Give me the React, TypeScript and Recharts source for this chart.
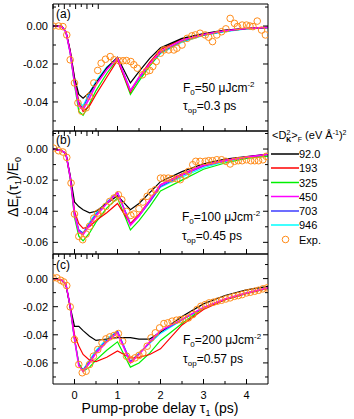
import React from "react";
import { ComposedChart, Line, Scatter, XAxis, YAxis } from "recharts";

// model delay grid (ps)
const delay = [-0.5, -0.3, -0.2, -0.1, 0, 0.1, 0.2, 0.35, 0.5, 0.75, 1.0, 1.3, 1.5, 1.75, 2.0, 2.5, 3.0, 3.5, 4.0, 4.5];

const seriesNames = ["92.0", "193", "325", "450", "703", "946"];
const seriesColors = ["#000000", "#ff0000", "#00f000", "#ff00ff", "#3c3cff", "#00ffff"];
// paint order: cyan, blue, green, red, black, magenta on top
const drawOrder = [5, 4, 2, 1, 0, 3];
const expName = "Exp.";

// panel (a), F0 = 50
const a92 = [0, 0, -0.003, -0.013, -0.027, -0.036, -0.038, -0.035, -0.03, -0.022, -0.0165, -0.03, -0.024, -0.017, -0.0115, -0.0065, -0.004, -0.0022, -0.0012, -0.0007];
const a193 = [0, -0.0003, -0.003, -0.013, -0.028, -0.04, -0.045, -0.042, -0.036, -0.027, -0.018, -0.035, -0.027, -0.019, -0.0125, -0.0068, -0.0042, -0.0024, -0.0013, -0.0007];
const a325 = [0, -0.0003, -0.003, -0.014, -0.031, -0.045, -0.047, -0.041, -0.034, -0.025, -0.0175, -0.036, -0.029, -0.021, -0.014, -0.0078, -0.0047, -0.0027, -0.0014, -0.0008];
const a450 = [0, -0.0003, -0.003, -0.014, -0.03, -0.042, -0.044, -0.038, -0.031, -0.023, -0.017, -0.034, -0.027, -0.02, -0.0135, -0.0075, -0.0045, -0.0025, -0.0013, -0.0007];
const a703 = [0, -0.0003, -0.003, -0.014, -0.03, -0.041, -0.043, -0.036, -0.03, -0.022, -0.017, -0.034, -0.0275, -0.0205, -0.014, -0.008, -0.0048, -0.0027, -0.0014, -0.0008];
const a946 = [0, -0.0003, -0.003, -0.014, -0.03, -0.04, -0.042, -0.035, -0.029, -0.0215, -0.017, -0.034, -0.028, -0.021, -0.0145, -0.0085, -0.005, -0.003, -0.0015, -0.0008];
const expAt = [-0.5, -0.37, -0.27, -0.18, -0.1, 0, 0.08, 0.17, 0.27, 0.35, 0.45, 0.54, 0.62, 0.72, 0.83, 0.92, 1.04, 1.13, 1.21, 1.31, 1.38, 1.46, 1.58, 1.67, 1.75, 1.82, 1.9, 2.0, 2.08, 2.19, 2.31, 2.38, 2.5, 2.62, 2.73, 2.81, 2.92, 3.04, 3.12, 3.21, 3.31, 3.42, 3.52, 3.62, 3.72, 3.79, 3.9, 4.0, 4.08, 4.15, 4.25, 4.35, 4.44];
const expAv = [0, 0, -0.0003, -0.0047, -0.0178, -0.03, -0.0405, -0.0449, -0.0431, -0.037, -0.03, -0.0234, -0.0196, -0.0175, -0.0161, -0.0178, -0.0183, -0.0183, -0.0182, -0.0187, -0.0204, -0.0222, -0.0257, -0.0239, -0.0234, -0.0213, -0.0187, -0.0143, -0.0126, -0.0126, -0.0126, -0.0117, -0.01, -0.0065, -0.0052, -0.0047, -0.0038, -0.0047, -0.0059, -0.0082, -0.0047, -0.003, -0.0015, 0.004, 0.0014, -0.0003, 0.0005, 0.0005, 0, -0.0003, 0.0026, -0.0021, -0.0047];

// panel (b), F0 = 100
const b92 = [0, -0.001, -0.003, -0.017, -0.034, -0.037, -0.039, -0.041, -0.04, -0.035, -0.03, -0.039, -0.035, -0.028, -0.021, -0.0145, -0.0095, -0.0065, -0.0048, -0.0032];
const b193 = [0, -0.001, -0.003, -0.018, -0.04, -0.048, -0.051, -0.05, -0.046, -0.041, -0.035, -0.048, -0.042, -0.033, -0.023, -0.016, -0.0105, -0.0073, -0.0052, -0.0034];
const b325 = [0, -0.001, -0.003, -0.019, -0.044, -0.056, -0.059, -0.054, -0.047, -0.038, -0.0315, -0.052, -0.046, -0.037, -0.027, -0.02, -0.013, -0.009, -0.006, -0.0045];
const b450 = [0, -0.001, -0.003, -0.018, -0.042, -0.053, -0.055, -0.049, -0.043, -0.035, -0.028, -0.049, -0.043, -0.033, -0.023, -0.0165, -0.0105, -0.0073, -0.0052, -0.0033];
const b703 = [0, -0.001, -0.003, -0.018, -0.042, -0.052, -0.054, -0.048, -0.042, -0.0345, -0.028, -0.048, -0.043, -0.034, -0.024, -0.017, -0.011, -0.0076, -0.0054, -0.0035];
const b946 = [0, -0.001, -0.003, -0.018, -0.041, -0.052, -0.054, -0.047, -0.041, -0.034, -0.028, -0.048, -0.043, -0.034, -0.0245, -0.018, -0.012, -0.008, -0.0056, -0.0036];
const expBt = [-0.49, -0.37, -0.27, -0.18, -0.08, 0, 0.1, 0.19, 0.27, 0.35, 0.45, 0.54, 0.64, 0.73, 0.82, 0.92, 1.02, 1.1, 1.21, 1.31, 1.38, 1.5, 1.59, 1.69, 1.78, 1.88, 2.0, 2.08, 2.18, 2.27, 2.38, 2.46, 2.58, 2.65, 2.75, 2.82, 2.92, 3.04, 3.12, 3.21, 3.31, 3.42, 3.52, 3.62, 3.72, 3.81, 3.9, 4.0, 4.1, 4.19, 4.28, 4.38, 4.46];
const expBv = [0.0006, -0.0011, -0.0019, -0.0054, -0.0219, -0.0418, -0.0562, -0.0583, -0.0547, -0.0497, -0.0444, -0.0412, -0.0397, -0.0369, -0.0337, -0.0315, -0.0294, -0.0326, -0.0401, -0.0427, -0.0418, -0.0384, -0.0341, -0.0304, -0.0277, -0.0262, -0.0187, -0.0187, -0.0187, -0.0191, -0.0191, -0.0197, -0.0169, -0.0144, -0.0101, -0.0079, -0.0079, -0.0079, -0.0075, -0.0075, -0.0069, -0.0069, -0.0079, -0.0096, -0.0079, -0.0075, -0.0075, -0.0069, -0.0075, -0.0075, -0.0075, -0.0069, -0.0047];

// panel (c), F0 = 200
const c92 = [0, -0.001, -0.004, -0.02, -0.034, -0.034, -0.037, -0.041, -0.044, -0.043, -0.042, -0.042, -0.043, -0.043, -0.038, -0.027, -0.018, -0.012, -0.008, -0.0055];
const c193 = [0, -0.001, -0.004, -0.02, -0.04, -0.048, -0.054, -0.058, -0.059, -0.056, -0.0515, -0.0565, -0.056, -0.054, -0.05, -0.033, -0.022, -0.015, -0.0105, -0.007];
const c325 = [0, -0.001, -0.004, -0.021, -0.043, -0.06, -0.066, -0.063, -0.058, -0.051, -0.045, -0.063, -0.06, -0.053, -0.044, -0.032, -0.021, -0.015, -0.0105, -0.007];
const c450 = [0, -0.001, -0.004, -0.02, -0.043, -0.062, -0.066, -0.06, -0.053, -0.045, -0.0385, -0.06, -0.054, -0.045, -0.037, -0.029, -0.0205, -0.0145, -0.0102, -0.0066];
const c703 = [0, -0.001, -0.004, -0.02, -0.043, -0.061, -0.065, -0.059, -0.052, -0.044, -0.0375, -0.059, -0.0535, -0.0455, -0.038, -0.0292, -0.0207, -0.0147, -0.0103, -0.0067];
const c946 = [0, -0.001, -0.004, -0.02, -0.043, -0.061, -0.065, -0.058, -0.051, -0.043, -0.0375, -0.059, -0.053, -0.046, -0.039, -0.0295, -0.021, -0.015, -0.0105, -0.0068];
const expCt = [-0.5, -0.41, -0.32, -0.25, -0.18, -0.1, 0, 0.1, 0.18, 0.27, 0.35, 0.44, 0.54, 0.64, 0.73, 0.82, 0.92, 1.02, 1.12, 1.21, 1.31, 1.41, 1.5, 1.59, 1.69, 1.78, 1.88, 1.98, 2.08, 2.17, 2.27, 2.37, 2.46, 2.56, 2.65, 2.75, 2.85, 2.94, 3.04, 3.13, 3.23, 3.32, 3.42, 3.52, 3.62, 3.72, 3.81, 3.9, 4.0, 4.09, 4.19, 4.28, 4.38, 4.48];
const expCv = [0.0005, 0.0005, -0.0012, -0.0024, -0.005, -0.0201, -0.0434, -0.0611, -0.067, -0.0659, -0.0611, -0.0552, -0.0505, -0.0457, -0.0429, -0.0415, -0.0405, -0.0391, -0.0446, -0.0552, -0.0576, -0.0564, -0.0547, -0.0529, -0.0481, -0.0422, -0.0386, -0.0351, -0.032, -0.0315, -0.0303, -0.0296, -0.0292, -0.0287, -0.028, -0.0256, -0.022, -0.0197, -0.0185, -0.0173, -0.0168, -0.0161, -0.0154, -0.0145, -0.0137, -0.0126, -0.0121, -0.0114, -0.0102, -0.0097, -0.009, -0.0083, -0.0073, -0.0066];

const xTicks = [0, 0.5, 1, 1.5, 2, 2.5, 3, 3.5, 4];
const xLabels = [0, 1, 2, 3, 4];
const yTicksA = [0.01, 0, -0.01, -0.02, -0.03, -0.04, -0.05];
const yTicksB = [0.01, 0, -0.01, -0.02, -0.03, -0.04, -0.05, -0.06];
const yTicksC = [0.01, 0, -0.01, -0.02, -0.03, -0.04, -0.05, -0.06, -0.07];

const FONT = "'Liberation Sans', Arial, Helvetica, sans-serif";
const EXP_COLOR = "#ff8c1a";

const isMajorY = (v: number) => Math.round(v * 100) % 2 === 0 && v <= 0;
const isMajorX = (v: number) => Number.isInteger(v);

function LeftTick(props: any) {
  const { x, y, payload } = props;
  const v = payload.value;
  const major = isMajorY(v);
  return (
    <g>
      <line x1={x} x2={x + (major ? 5 : 3)} y1={y} y2={y} stroke="#000" />
      {major && (
        <text x={x - 5} y={y + 4} textAnchor="end" fontSize={11} fontFamily={FONT} fill="#000">
          {v.toFixed(2)}
        </text>
      )}
    </g>
  );
}

function RightTick(props: any) {
  const { x, y, payload } = props;
  const major = isMajorY(payload.value);
  return <line x1={x} x2={x - (major ? 5 : 3)} y1={y} y2={y} stroke="#000" />;
}

function TopTick(props: any) {
  const { x, y, payload } = props;
  const major = isMajorX(payload.value);
  return <line x1={x} x2={x} y1={y} y2={y + (major ? 5 : 3)} stroke="#000" />;
}

function makeBottomTick(showLabels: boolean) {
  return (props: any) => {
    const { x, y, payload } = props;
    const v = payload.value;
    const major = isMajorX(v);
    return (
      <g>
        <line x1={x} x2={x} y1={y} y2={y - (major ? 5 : 3)} stroke="#000" />
        {showLabels && xLabels.includes(v) && (
          <text x={x} y={y + 15} textAnchor="middle" fontSize={11} fontFamily={FONT} fill="#000">
            {String(v)}
          </text>
        )}
      </g>
    );
  };
}

type PanelProps = {
  top: number;
  height: number;
  bottomH: number;
  series: number[][];
  expT: number[];
  expV: number[];
  yDomain: [number, number];
  yTicks: number[];
  showXLabels: boolean;
};

function Panel({ top, height, bottomH, series, expT, expV, yDomain, yTicks, showXLabels }: PanelProps) {
  const rows = delay.map((t, i) => {
    const r: any = { t };
    series.forEach((arr, k) => {
      r["s" + k] = arr[i];
    });
    return r;
  });
  const exp = expT.map((t, i) => ({ t, v: expV[i] }));
  const axisLine = { stroke: "#000", strokeWidth: 1 };
  return (
    <div style={{ position: "absolute", left: 0, top, width: 354, height }}>
      <ComposedChart width={354} height={height} data={rows} margin={{ top: 0, right: 85, bottom: 0, left: 0 }}>
        <XAxis
          dataKey="t"
          type="number"
          domain={[-0.5, 4.5]}
          ticks={xTicks}
          interval={0}
          allowDataOverflow
          height={bottomH}
          tickLine={false}
          tickSize={0}
          tickMargin={0}
          axisLine={axisLine}
          tick={makeBottomTick(showXLabels)}
        />
        <XAxis
          xAxisId="top"
          orientation="top"
          type="number"
          domain={[-0.5, 4.5]}
          ticks={xTicks}
          interval={0}
          allowDataOverflow
          height={1}
          tickLine={false}
          tickSize={0}
          tickMargin={0}
          axisLine={axisLine}
          tick={TopTick}
        />
        <YAxis
          type="number"
          domain={yDomain}
          ticks={yTicks}
          interval={0}
          allowDataOverflow
          width={53}
          tickLine={false}
          tickSize={0}
          tickMargin={0}
          axisLine={axisLine}
          tick={LeftTick}
        />
        <YAxis
          yAxisId="right"
          orientation="right"
          type="number"
          domain={yDomain}
          ticks={yTicks}
          interval={0}
          allowDataOverflow
          width={1}
          tickLine={false}
          tickSize={0}
          tickMargin={0}
          axisLine={axisLine}
          tick={RightTick}
        />
        {drawOrder.map((k) => (
          <Line
            key={k}
            type="linear"
            dataKey={"s" + k}
            stroke={seriesColors[k]}
            strokeWidth={k === 3 ? 1.6 : 1.2}
            dot={false}
            isAnimationActive={false}
          />
        ))}
        <Scatter
          data={exp}
          dataKey="v"
          isAnimationActive={false}
          shape={(p: any) => (
            <circle cx={p.cx} cy={p.cy} r={3.3} fill="none" stroke={EXP_COLOR} strokeWidth={1} />
          )}
        />
      </ComposedChart>
    </div>
  );
}

function Overlay() {
  const t = { fontFamily: FONT, fill: "#000" };
  const legendY = [154, 168, 182.5, 196.5, 211, 225];
  return (
    <svg
      width={354}
      height={419}
      style={{ position: "absolute", left: 0, top: 0, pointerEvents: "none" }}
    >
      {/* panel tags */}
      <text x={56} y={18} fontSize={12} {...t}>(a)</text>
      <text x={56} y={144} fontSize={12} {...t}>(b)</text>
      <text x={56} y={269} fontSize={12} {...t}>(c)</text>

      {/* annotations */}
      <text x={183} y={92} fontSize={12} {...t}>
        F<tspan dy={3} fontSize={8}>0</tspan>
        <tspan dy={-3}>=50 μJcm</tspan>
        <tspan dy={-5} fontSize={8}>-2</tspan>
      </text>
      <text x={183} y={110} fontSize={12} {...t}>
        τ<tspan dy={3} fontSize={8}>op</tspan>
        <tspan dy={-3}>=0.3 ps</tspan>
      </text>
      <text x={182} y={221} fontSize={12} {...t}>
        F<tspan dy={3} fontSize={8}>0</tspan>
        <tspan dy={-3}>=100 μJcm</tspan>
        <tspan dy={-5} fontSize={8}>-2</tspan>
      </text>
      <text x={182} y={240} fontSize={12} {...t}>
        τ<tspan dy={3} fontSize={8}>op</tspan>
        <tspan dy={-3}>=0.45 ps</tspan>
      </text>
      <text x={183} y={344} fontSize={12} {...t}>
        F<tspan dy={3} fontSize={8}>0</tspan>
        <tspan dy={-3}>=200 μJcm</tspan>
        <tspan dy={-5} fontSize={8}>-2</tspan>
      </text>
      <text x={183} y={363} fontSize={12} {...t}>
        τ<tspan dy={3} fontSize={8}>op</tspan>
        <tspan dy={-3}>=0.57 ps</tspan>
      </text>

      {/* axis titles */}
      <text x={160} y={413} fontSize={14} textAnchor="middle" {...t}>
        Pump-probe delay τ<tspan dy={3} fontSize={9}>1</tspan>
        <tspan dy={-3}> (ps)</tspan>
      </text>
      <text transform="translate(18,187) rotate(-90)" fontSize={14} textAnchor="middle" {...t}>
        ΔE<tspan dy={3} fontSize={9}>r</tspan>
        <tspan dy={-3}>(τ</tspan>
        <tspan dy={3} fontSize={9}>1</tspan>
        <tspan dy={-3}>)/E</tspan>
        <tspan dy={3} fontSize={9}>0</tspan>
      </text>

      {/* legend */}
      <text x={272} y={139} fontSize={11} {...t}>
        {"<D"}
        <tspan dy={-4} fontSize={7}>2</tspan>
        <tspan dx={-4} dy={7} fontSize={7} fontWeight="bold">K</tspan>
        <tspan dy={-3}>{">"}</tspan>
        <tspan dy={3} fontSize={7}>F</tspan>
        <tspan dy={-3}> (eV Å</tspan>
        <tspan dy={-4} fontSize={7}>-1</tspan>
        <tspan dy={4}>)</tspan>
        <tspan dy={-4} fontSize={7}>2</tspan>
      </text>
      {seriesNames.map((name, i) => (
        <g key={name}>
          <line x1={271} x2={299} y1={legendY[i]} y2={legendY[i]} stroke={seriesColors[i]} strokeWidth={1.5} />
          <text x={299} y={legendY[i] + 4} fontSize={11} {...t}>{name}</text>
        </g>
      ))}
      <circle cx={285.5} cy={239.5} r={3.3} fill="none" stroke={EXP_COLOR} strokeWidth={1} />
      <text x={299} y={243.5} fontSize={11} {...t}>{expName}</text>
    </svg>
  );
}

export default function App() {
  return (
    <div style={{ position: "absolute", left: 0, top: 0, width: 354, height: 419, background: "#fff" }}>
      <Panel
        top={3}
        height={129}
        bottomH={1}
        series={[a92, a193, a325, a450, a703, a946]}
        expT={expAt}
        expV={expAv}
        yDomain={[-0.0553, 0.0116]}
        yTicks={yTicksA}
        showXLabels={false}
      />
      <Panel
        top={130}
        height={125}
        bottomH={1}
        series={[b92, b193, b325, b450, b703, b946]}
        expT={expBt}
        expV={expBv}
        yDomain={[-0.0675, 0.0116]}
        yTicks={yTicksB}
        showXLabels={false}
      />
      <Panel
        top={253}
        height={166}
        bottomH={35}
        series={[c92, c193, c325, c450, c703, c946]}
        expT={expCt}
        expV={expCv}
        yDomain={[-0.075, 0.0175]}
        yTicks={yTicksC}
        showXLabels={true}
      />
      <Overlay />
    </div>
  );
}
